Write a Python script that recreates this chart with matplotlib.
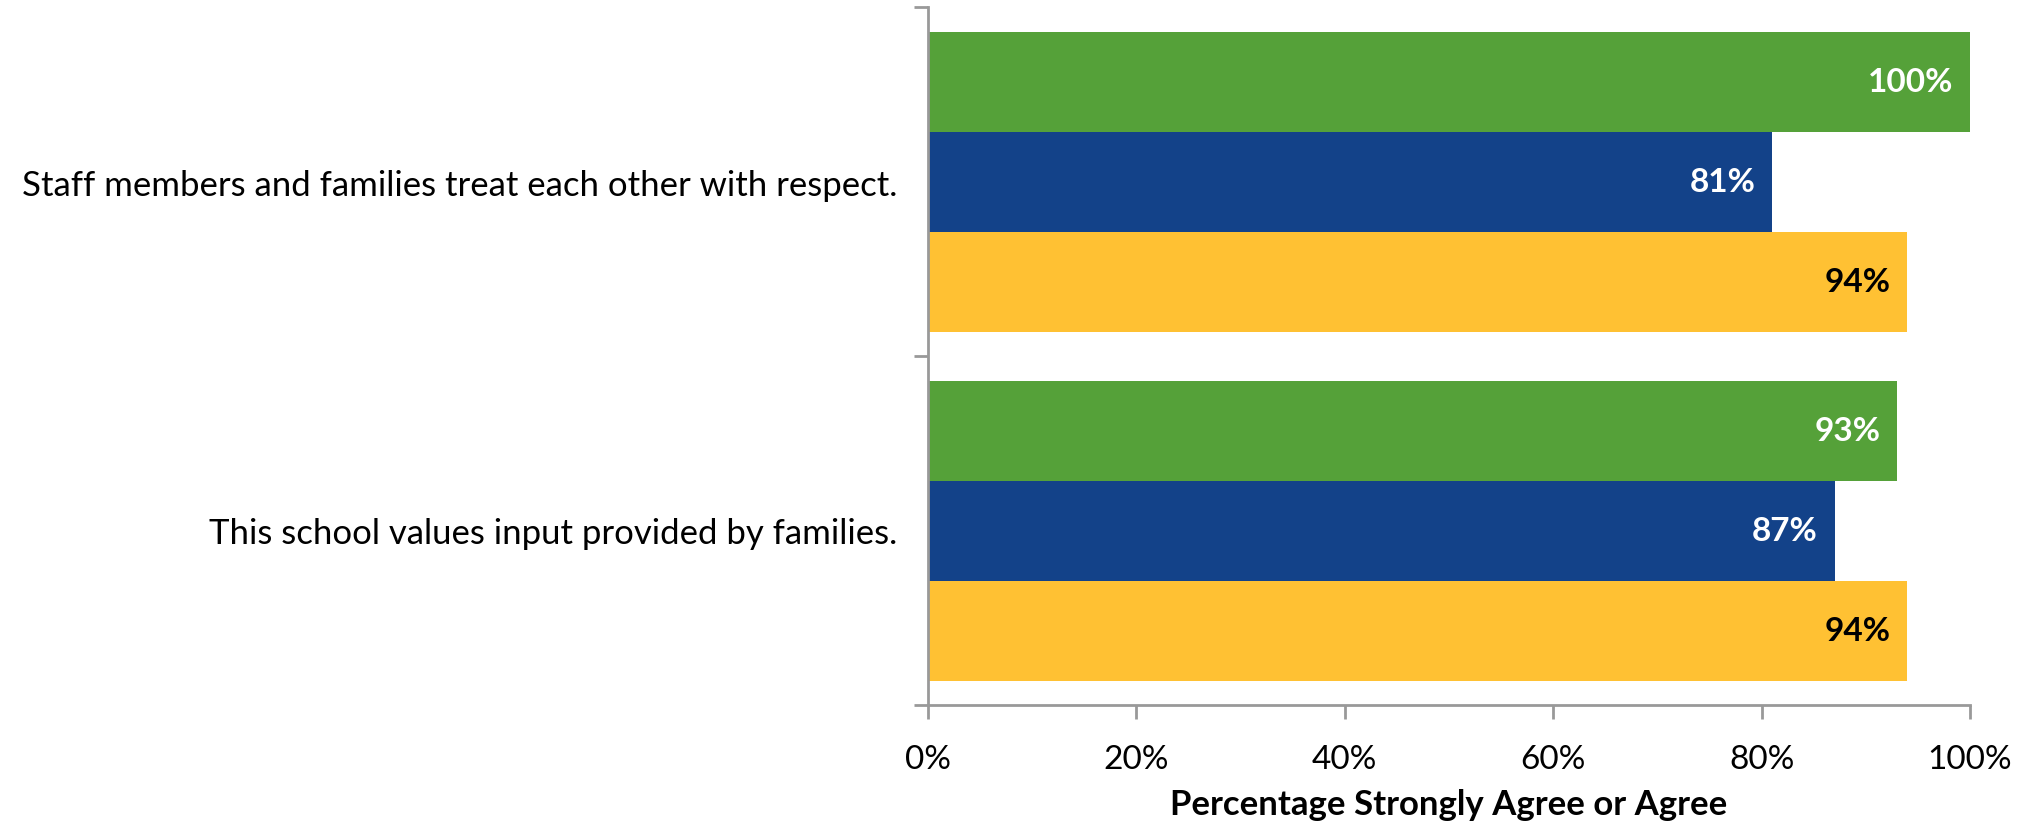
import matplotlib.pyplot as plt
import numpy as np

plt.rcParams['font.family'] = ['Lato', 'DejaVu Sans']

categories = ['Staff members and families treat each other with respect.',
              'This school values input provided by families.']
green_vals = [100, 93]
blue_vals = [81, 87]
yellow_vals = [94, 94]
xticks = [0, 20, 40, 60, 80, 100]
xtick_labels = ['0%', '20%', '40%', '60%', '80%', '100%']

series = [(green_vals, '#55A139', 'white'),
          (blue_vals, '#134289', 'white'),
          (yellow_vals, '#FFC133', 'black')]

fig = plt.figure(figsize=(20.3, 8.28), dpi=100)
ax = fig.add_axes([928 / 2030, 1 - 706 / 828, (1970 - 928) / 2030, (706 - 8) / 828])

y = np.arange(len(categories))
h = 100 / 349
for i, (vals, color, tcolor) in enumerate(series):
    pos = y + (i - 1) * h
    ax.barh(pos, vals, height=h, color=color)
    for p, v in zip(pos, vals):
        ax.text(v - 1.6, p, f'{v}%', ha='right', va='center', color=tcolor,
                fontsize=24, fontweight='bold')

ax.set_xlim(0, 100)
ax.set_ylim(1.5, -0.5)
ax.set_yticks([-0.5, 0.5, 1.5])
ax.set_yticklabels([])
ax.set_yticks(y, minor=True)
ax.set_yticklabels(categories, minor=True, fontsize=25)
ax.tick_params(axis='y', which='minor', length=0, pad=22)
ax.tick_params(axis='y', which='major', length=10, width=2, color='#999999', direction='out')
ax.set_xticks(xticks)
ax.set_xticklabels(xtick_labels, fontsize=24)
ax.tick_params(axis='x', length=10, width=2, color='#999999', direction='out', pad=18)
ax.set_xlabel('Percentage Strongly Agree or Agree', fontsize=25, fontweight='bold', labelpad=10)

for s in ['top', 'right']:
    ax.spines[s].set_visible(False)
for s in ['left', 'bottom']:
    ax.spines[s].set_color('#999999')
    ax.spines[s].set_linewidth(2)

fig.savefig('out.png', dpi=100)
